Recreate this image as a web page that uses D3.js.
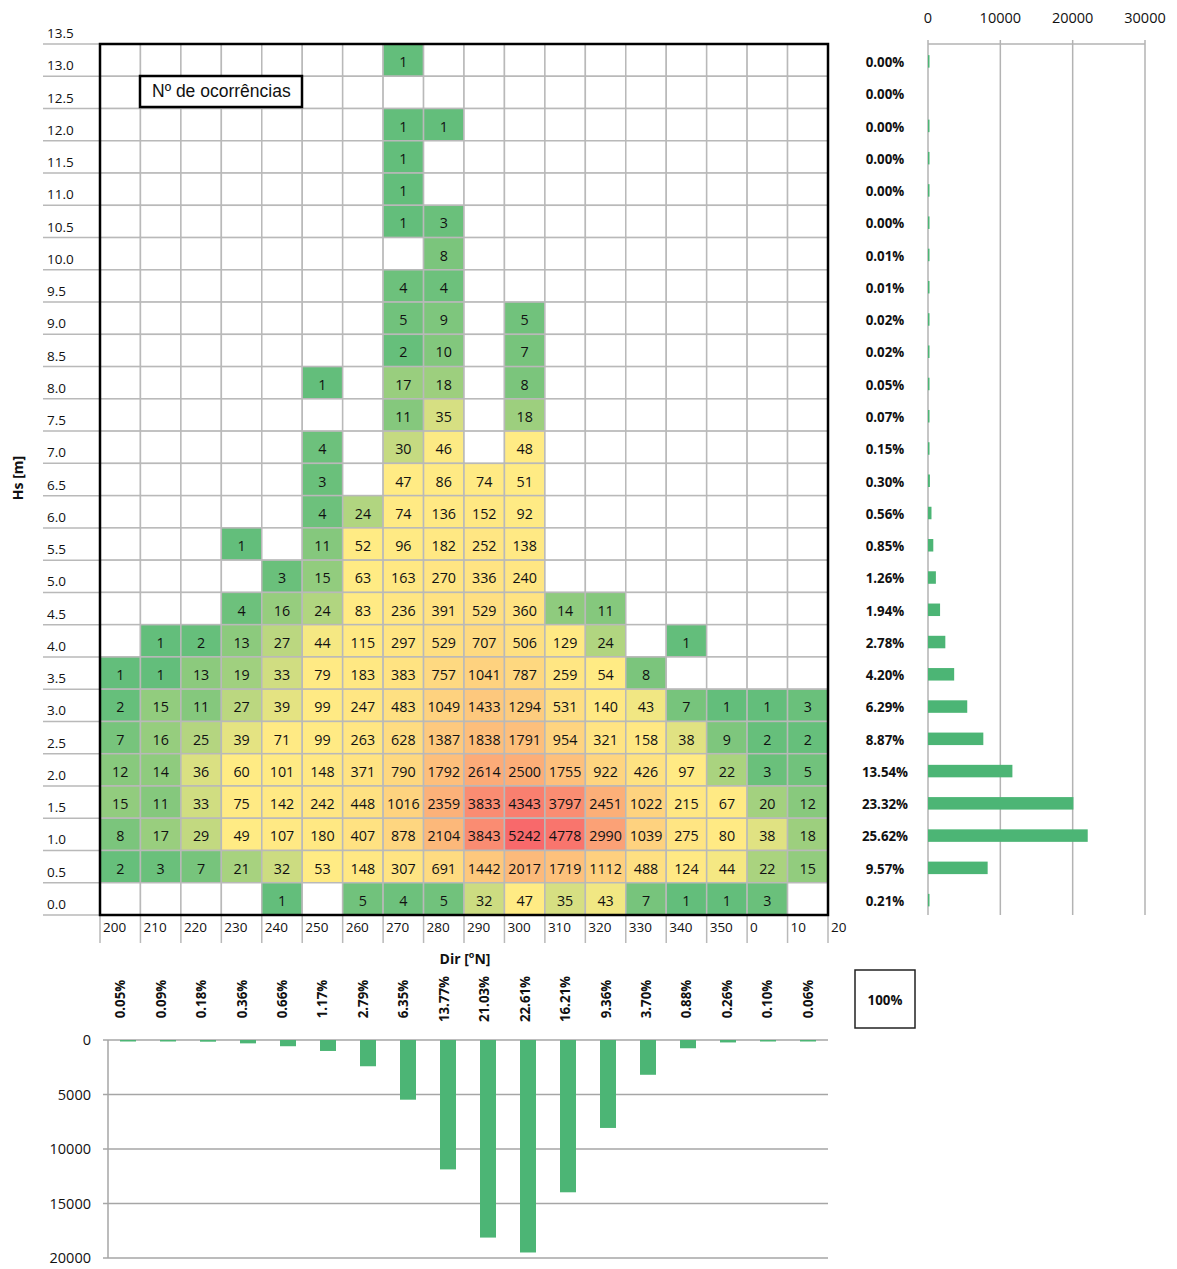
<!DOCTYPE html>
<html>
<head>
<meta charset="utf-8">
<script src="https://cdn.jsdelivr.net/npm/d3@7"></script>
<style>
  html, body { margin: 0; padding: 0; background: #fff; }
  svg { display: block; }
  text { font-family: "Open Sans", "DejaVu Sans", sans-serif; fill: #111; }
</style>
</head>
<body>
<svg id="chart" width="1177" height="1269"></svg>
<script>
// ---------- DATA ----------
const directions = ["200","210","220","230","240","250","260","270","280","290","300","310","320","330","340","350","0","10"];
const dirTickLabels = [...directions, "20"];
const hsRows = ["13.0","12.5","12.0","11.5","11.0","10.5","10.0","9.5","9.0","8.5","8.0","7.5","7.0","6.5","6.0","5.5","5.0","4.5","4.0","3.5","3.0","2.5","2.0","1.5","1.0","0.5","0.0"];
const hsTickLabels = ["13.5", ...hsRows];

// occurrences per Hs row (top -> bottom), per direction (200 ... 10); null = empty cell
const _ = null;
const counts = [
  [_,_,_,_,_,_,_,1,_,_,_,_,_,_,_,_,_,_],            // 13.0
  [_,_,_,_,_,_,_,_,_,_,_,_,_,_,_,_,_,_],            // 12.5
  [_,_,_,_,_,_,_,1,1,_,_,_,_,_,_,_,_,_],            // 12.0
  [_,_,_,_,_,_,_,1,_,_,_,_,_,_,_,_,_,_],            // 11.5
  [_,_,_,_,_,_,_,1,_,_,_,_,_,_,_,_,_,_],            // 11.0
  [_,_,_,_,_,_,_,1,3,_,_,_,_,_,_,_,_,_],            // 10.5
  [_,_,_,_,_,_,_,_,8,_,_,_,_,_,_,_,_,_],            // 10.0
  [_,_,_,_,_,_,_,4,4,_,_,_,_,_,_,_,_,_],            // 9.5
  [_,_,_,_,_,_,_,5,9,_,5,_,_,_,_,_,_,_],            // 9.0
  [_,_,_,_,_,_,_,2,10,_,7,_,_,_,_,_,_,_],           // 8.5
  [_,_,_,_,_,1,_,17,18,_,8,_,_,_,_,_,_,_],          // 8.0
  [_,_,_,_,_,_,_,11,35,_,18,_,_,_,_,_,_,_],         // 7.5
  [_,_,_,_,_,4,_,30,46,_,48,_,_,_,_,_,_,_],         // 7.0
  [_,_,_,_,_,3,_,47,86,74,51,_,_,_,_,_,_,_],        // 6.5
  [_,_,_,_,_,4,24,74,136,152,92,_,_,_,_,_,_,_],     // 6.0
  [_,_,_,1,_,11,52,96,182,252,138,_,_,_,_,_,_,_],   // 5.5
  [_,_,_,_,3,15,63,163,270,336,240,_,_,_,_,_,_,_],  // 5.0
  [_,_,_,4,16,24,83,236,391,529,360,14,11,_,_,_,_,_], // 4.5
  [_,1,2,13,27,44,115,297,529,707,506,129,24,_,1,_,_,_], // 4.0
  [1,1,13,19,33,79,183,383,757,1041,787,259,54,8,_,_,_,_], // 3.5
  [2,15,11,27,39,99,247,483,1049,1433,1294,531,140,43,7,1,1,3], // 3.0
  [7,16,25,39,71,99,263,628,1387,1838,1791,954,321,158,38,9,2,2], // 2.5
  [12,14,36,60,101,148,371,790,1792,2614,2500,1755,922,426,97,22,3,5], // 2.0
  [15,11,33,75,142,242,448,1016,2359,3833,4343,3797,2451,1022,215,67,20,12], // 1.5
  [8,17,29,49,107,180,407,878,2104,3843,5242,4778,2990,1039,275,80,38,18], // 1.0
  [2,3,7,21,32,53,148,307,691,1442,2017,1719,1112,488,124,44,22,15], // 0.5
  [_,_,_,_,1,_,5,4,5,32,47,35,43,7,1,1,3,_]          // 0.0
];

const rowPctLabels = ["0.00%","0.00%","0.00%","0.00%","0.00%","0.00%","0.01%","0.01%","0.02%","0.02%","0.05%","0.07%","0.15%","0.30%","0.56%","0.85%","1.26%","1.94%","2.78%","4.20%","6.29%","8.87%","13.54%","23.32%","25.62%","9.57%","0.21%"];
const colPctLabels = ["0.05%","0.09%","0.18%","0.36%","0.66%","1.17%","2.79%","6.35%","13.77%","21.03%","22.61%","16.21%","9.36%","3.70%","0.88%","0.26%","0.10%","0.06%"];
const totalLabel = "100%";
const rightTicks = [0, 10000, 20000, 30000];
const bottomTicks = [0, 5000, 10000, 15000, 20000];

// ---------- DRAW ----------
const svg = d3.select("#chart");
const BAR = "#4cb575";
const GRID = "#b9b9b9";

const x = d3.scaleBand().domain(directions).range([100, 828]);
const y = d3.scaleBand().domain(hsRows).range([44, 915]);
const xTick = d3.scalePoint().domain(dirTickLabels).range([100, 828]);
const yTick = d3.scalePoint().domain(hsTickLabels).range([44, 915]);

// colour scale (3-colour: min green, 50th percentile yellow, max red)
const allVals = counts.flat().filter(v => v != null).sort(d3.ascending);
const vMin = allVals[0], vMax = allVals[allVals.length - 1];
const vMid = d3.quantile(allVals, 0.5);
const lo = d3.interpolateRgb("#63BE7B", "#FFEB84");
const hi = d3.interpolateRgb("#FFEB84", "#F8696B");
const color = v => v <= vMid ? lo((v - vMin) / (vMid - vMin)) : hi((v - vMid) / (vMax - vMid));

// row label guide lines
svg.append("g").selectAll("line").data(hsTickLabels).join("line")
  .attr("x1", 43).attr("x2", 100)
  .attr("y1", d => yTick(d)).attr("y2", d => yTick(d))
  .attr("stroke", GRID).attr("stroke-width", 1.5);
svg.append("g").selectAll("text").data(hsTickLabels).join("text")
  .attr("x", 47).attr("y", d => yTick(d) - 6)
  .attr("font-size", 13.5).text(d => d);

// column tick lines and labels
svg.append("g").selectAll("line").data(dirTickLabels).join("line")
  .attr("x1", d => xTick(d)).attr("x2", d => xTick(d))
  .attr("y1", 915).attr("y2", 943)
  .attr("stroke", GRID).attr("stroke-width", 1.5);
svg.append("g").selectAll("text").data(dirTickLabels).join("text")
  .attr("x", d => xTick(d) + 3).attr("y", 932)
  .attr("font-size", 13.5).text(d => d);

// cells
const cells = [];
counts.forEach((row, i) => row.forEach((v, j) => cells.push({hs: hsRows[i], dir: directions[j], v})));
const cg = svg.append("g");
cg.selectAll("rect").data(cells).join("rect")
  .attr("x", d => x(d.dir)).attr("y", d => y(d.hs))
  .attr("width", x.bandwidth()).attr("height", y.bandwidth())
  .attr("fill", d => d.v == null ? "#fff" : color(d.v))
  .attr("stroke", GRID).attr("stroke-width", 1.5);
cg.selectAll("text").data(cells.filter(d => d.v != null)).join("text")
  .attr("x", d => x(d.dir) + x.bandwidth() / 2)
  .attr("y", d => y(d.hs) + y.bandwidth() / 2 + 7)
  .attr("text-anchor", "middle").attr("font-size", 14.3)
  .text(d => d.v);

// outer frame
svg.append("rect").attr("x", 100).attr("y", 44).attr("width", 728).attr("height", 871)
  .attr("fill", "none").attr("stroke", "#000").attr("stroke-width", 2.5);

// legend box
svg.append("rect").attr("x", 140).attr("y", 76).attr("width", 162).attr("height", 31)
  .attr("fill", "#fff").attr("stroke", "#000").attr("stroke-width", 2.5);
svg.append("text").attr("x", 152).attr("y", 97)
  .style("font-family", "'Liberation Sans', Arial, sans-serif").attr("font-size", 17.5)
  .text("Nº de ocorrências");

// axis titles
svg.append("text").attr("transform", "translate(23,478) rotate(-90)")
  .attr("text-anchor", "middle").attr("font-weight", "bold").attr("font-size", 14)
  .text("Hs [m]");
const dirT = svg.append("text").attr("x", 465).attr("y", 964)
  .attr("text-anchor", "middle").attr("font-weight", "bold").attr("font-size", 14);
dirT.append("tspan").text("Dir [");
dirT.append("tspan").attr("font-size", 9).attr("dy", -6).text("o");
dirT.append("tspan").attr("dy", 6).text("N]");

// ---------- right bar chart (row totals) ----------
const rowTotals = counts.map(r => d3.sum(r, v => v || 0));
const xr = d3.scaleLinear().domain([0, 30000]).range([928, 1145]);
const rg = svg.append("g");
rg.selectAll("line.grid").data(rightTicks).join("line").attr("class", "grid")
  .attr("x1", d => xr(d)).attr("x2", d => xr(d)).attr("y1", 40).attr("y2", 915)
  .attr("stroke", "#b3b3b3").attr("stroke-width", 1.5);
rg.append("line").attr("x1", xr(0)).attr("x2", xr(30000)).attr("y1", 44).attr("y2", 44)
  .attr("stroke", "#b3b3b3").attr("stroke-width", 1.5);
rg.selectAll("text.tick").data(rightTicks).join("text").attr("class", "tick")
  .attr("x", d => xr(d)).attr("y", 23).attr("text-anchor", "middle").attr("font-size", 14.5)
  .text(d => d);
rg.selectAll("rect").data(hsRows.map((h, i) => ({h, v: rowTotals[i]})).filter(d => d.v > 0)).join("rect")
  .attr("x", xr(0)).attr("y", d => y(d.h) + y.bandwidth() / 2 - 5)
  .attr("width", d => Math.max(1.5, xr(d.v) - xr(0))).attr("height", 12.5)
  .attr("fill", BAR);
rg.selectAll("text.pct").data(hsRows.map((h, i) => ({h, t: rowPctLabels[i]}))).join("text").attr("class", "pct")
  .attr("x", 885).attr("y", d => y(d.h) + y.bandwidth() / 2 + 7)
  .attr("text-anchor", "middle").attr("font-weight", "bold").attr("font-size", 13.3)
  .text(d => d.t);

// ---------- bottom bar chart (direction totals) ----------
const colTotals = directions.map((d, j) => d3.sum(counts, r => r[j] || 0));
const xb = d3.scaleBand().domain(directions).range([108, 828]).paddingInner(0.6).paddingOuter(0.3);
const yb = d3.scaleLinear().domain([0, 20000]).range([1040, 1258]);
const bg = svg.append("g");
bg.selectAll("line.grid").data(bottomTicks).join("line").attr("class", "grid")
  .attr("x1", 103).attr("x2", 828).attr("y1", d => yb(d)).attr("y2", d => yb(d))
  .attr("stroke", "#a6a6a6").attr("stroke-width", 1.5);
bg.append("line").attr("x1", 108).attr("x2", 108).attr("y1", yb(0)).attr("y2", yb(20000))
  .attr("stroke", "#a6a6a6").attr("stroke-width", 1.5);
bg.selectAll("text.tick").data(bottomTicks).join("text").attr("class", "tick")
  .attr("x", 91).attr("y", d => yb(d) + 5).attr("text-anchor", "end").attr("font-size", 14.5)
  .text(d => d);
bg.selectAll("rect").data(directions.map((d, j) => ({d, v: colTotals[j]}))).join("rect")
  .attr("x", d => xb(d.d)).attr("y", yb(0))
  .attr("width", xb.bandwidth()).attr("height", d => Math.max(1.5, yb(d.v) - yb(0)))
  .attr("fill", BAR);
bg.selectAll("text.pct").data(directions.map((d, j) => ({d, t: colPctLabels[j]}))).join("text").attr("class", "pct")
  .attr("transform", d => `translate(${x(d.d) + x.bandwidth() / 2 + 5},999) rotate(-90)`)
  .attr("text-anchor", "middle").attr("font-weight", "bold").attr("font-size", 13.3)
  .text(d => d.t);

// total box
svg.append("rect").attr("x", 855).attr("y", 970).attr("width", 60).attr("height", 58)
  .attr("fill", "#fff").attr("stroke", "#222").attr("stroke-width", 1.5);
svg.append("text").attr("x", 885).attr("y", 1005).attr("text-anchor", "middle")
  .attr("font-weight", "bold").attr("font-size", 13.3).text(totalLabel);
</script>
</body>
</html>
